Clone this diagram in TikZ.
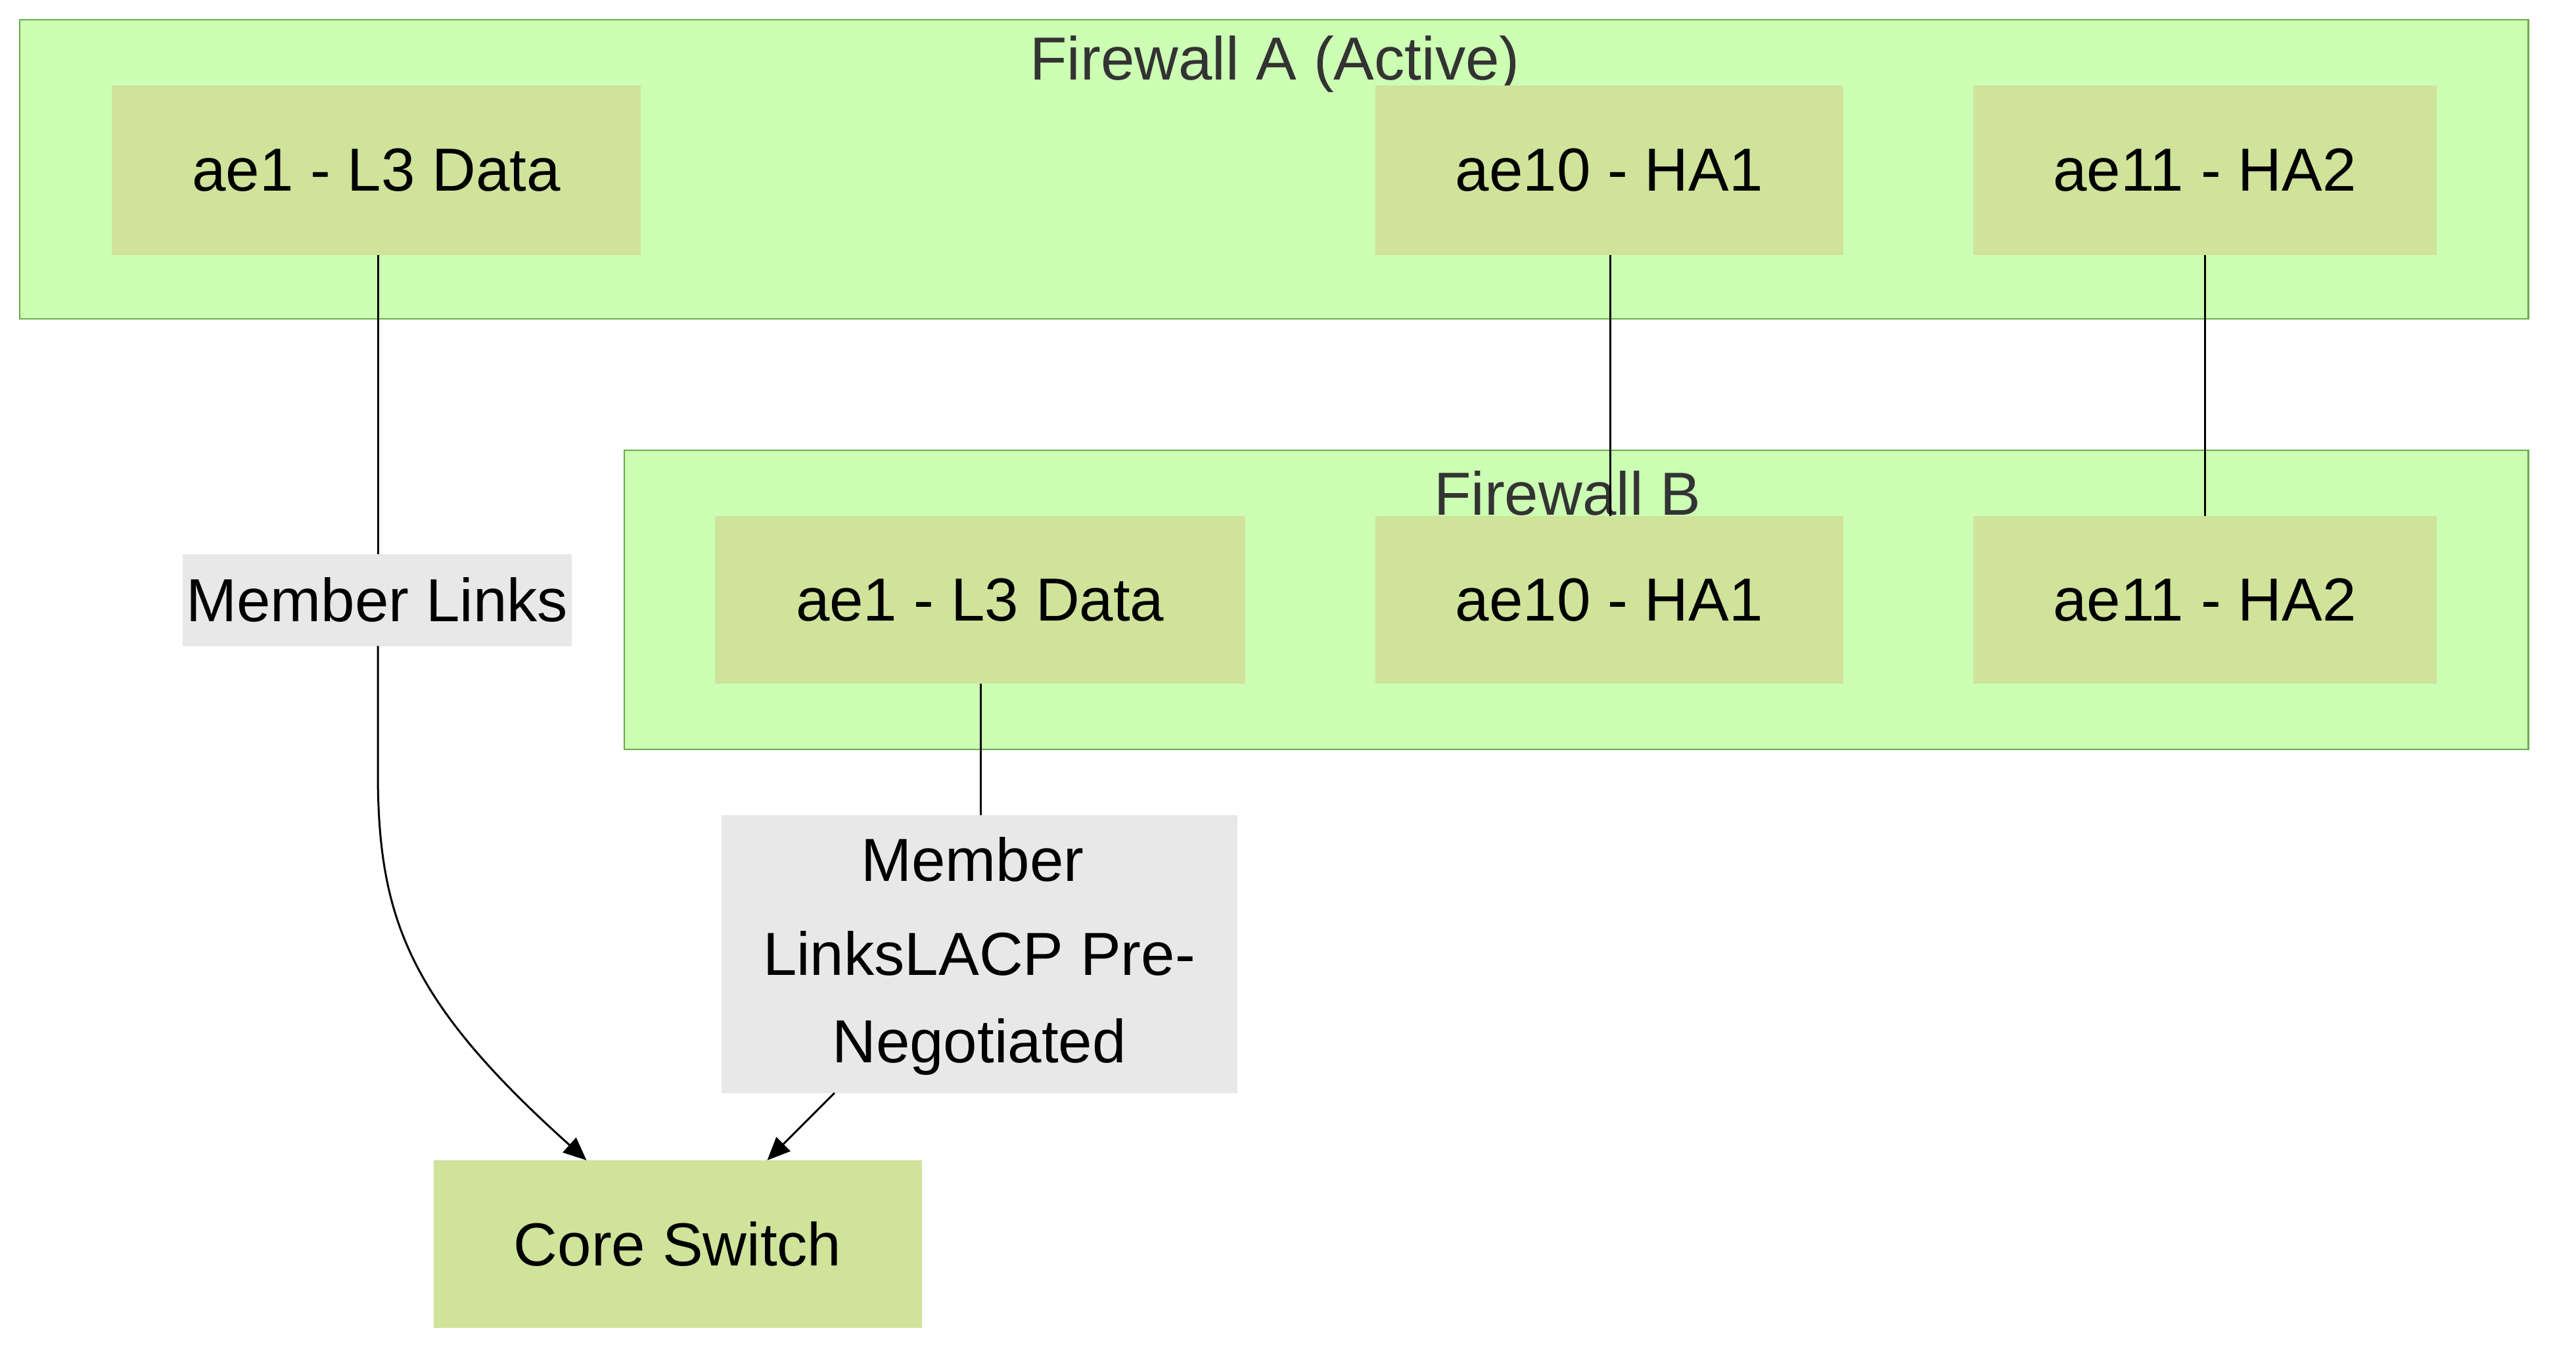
\documentclass[tikz,border=0pt]{standalone}
\usepackage{fontspec}
\setmainfont{Liberation Sans}
\usetikzlibrary{arrows.meta}
\definecolor{grp}{HTML}{CCFFB3}
\definecolor{grpb}{HTML}{6AAA4A}
\definecolor{nd}{HTML}{CFE39A}
\definecolor{lb}{HTML}{E8E8E8}
\begin{document}
\begin{tikzpicture}[x=0.5pt,y=-0.5pt,
  font=\fontsize{18.5}{28}\selectfont,
  grp/.style={fill=grp,draw=grpb,line width=0.5pt},
  nd/.style={fill=nd,draw=none},
  lbl/.style={fill=lb,draw=none},
  ttl/.style={text=black!80},
  ed/.style={line width=0.6pt,draw=black},
  arr/.style={ed,-{Triangle[length=7pt,width=6pt]}}]
\useasboundingbox (0,0) rectangle (1568,832);
\fill[white] (0,0) rectangle (1568,832);
% groups
\draw[grp] (12,12) rectangle (1539,194);
\node[ttl] (tA) at (776,39) {Firewall A (Active)};
\draw[grp] (380,274) rectangle (1539,456);
\node[ttl] (tB) at (954,300) {Firewall B};
% nodes A
\fill[nd] (68,52) rectangle (390,155);   \node (a1) at (229,103.5) {ae1 - L3 Data};
\fill[nd] (837,52) rectangle (1122,155); \node (a10) at (979.5,103.5) {ae10 - HA1};
\fill[nd] (1201,52) rectangle (1483,155);\node (a11) at (1342,103.5) {ae11 - HA2};
% nodes B
\fill[nd] (435,314) rectangle (758,416); \node (b1) at (596.5,365) {ae1 - L3 Data};
\fill[nd] (837,314) rectangle (1122,416);\node (b10) at (979.5,365) {ae10 - HA1};
\fill[nd] (1201,314) rectangle (1483,416);\node (b11) at (1342,365) {ae11 - HA2};
% core
\fill[nd] (264,706) rectangle (561,808); \node (cs) at (412.5,757) {Core Switch};
% labels
\fill[lbl] (111,337) rectangle (348,393); \node (l1) at (229.5,365) {Member Links};
\fill[lbl] (439,496) rectangle (753,665);
\node (l2a) at (592,523) {Member};
\node (l2b) at (596,580) {LinksLACP Pre-};
\node (l2c) at (596,637) {Negotiated};
\coordinate (a1b) at (230,155); \coordinate (l1t) at (230,337);
\coordinate (l1b) at (230,393); \coordinate (csl) at (357,706);
\coordinate (b1b) at (597,416); \coordinate (l2t) at (597,496);
\coordinate (l2o) at (508,665); \coordinate (csr) at (467,706);
\coordinate (a10b) at (980,155); \coordinate (b10t) at (980,314);
\coordinate (a11b) at (1342,155); \coordinate (b11t) at (1342,314);
% edges
\draw[ed] (a1b) -- (l1t);
\draw[arr] (l1b) -- (230,470) .. controls (230,560) and (250,610) .. (csl);
\draw[ed] (b1b) -- (l2t);
\draw[arr] (l2o) -- (csr);
\draw[ed] (a10b) -- (b10t);
\draw[ed] (a11b) -- (b11t);
\end{tikzpicture}
\end{document}
